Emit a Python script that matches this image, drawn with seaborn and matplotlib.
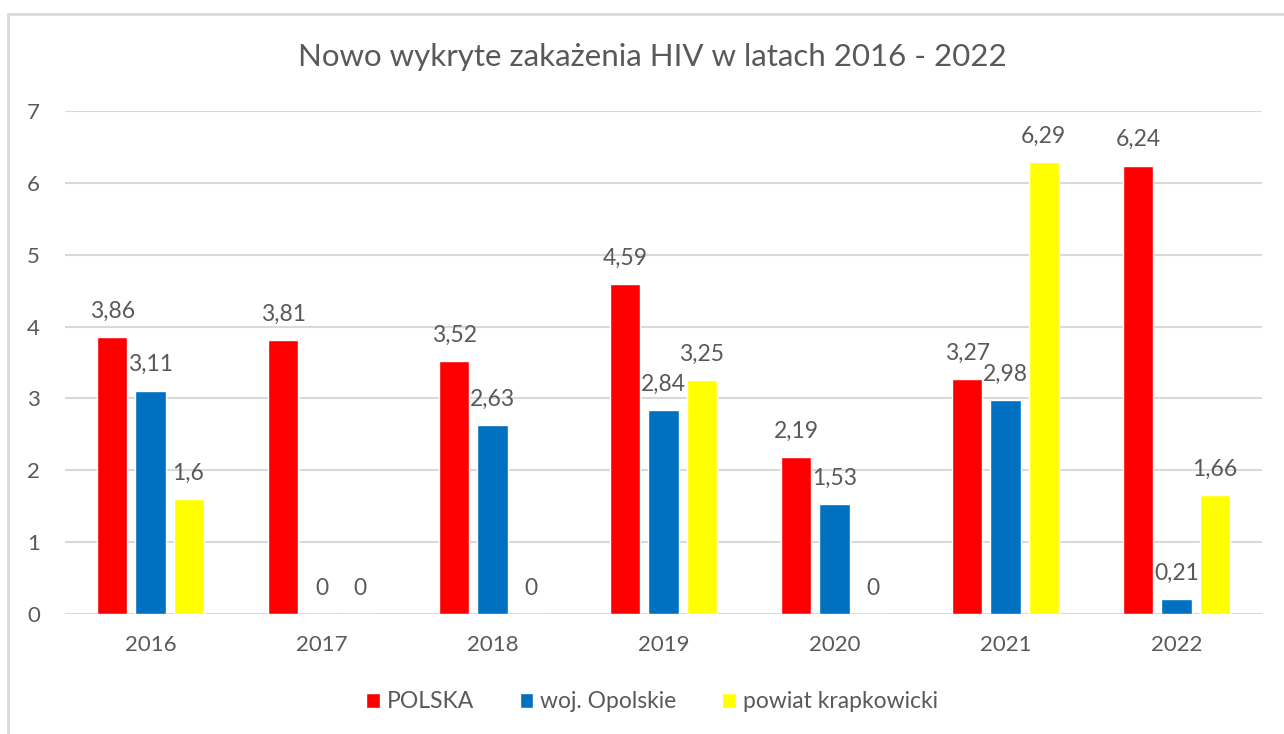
import matplotlib
matplotlib.use("Agg")
import matplotlib.pyplot as plt
from matplotlib.lines import Line2D
import seaborn as sns
import pandas as pd

years = ["2016", "2017", "2018", "2019", "2020", "2021", "2022"]
polska = [3.86, 3.81, 3.52, 4.59, 2.19, 3.27, 6.24]
opolskie = [3.11, 0, 2.63, 2.84, 1.53, 2.98, 0.21]
krapkowicki = [1.6, 0, 0, 3.25, 0, 6.29, 1.66]
series_names = ["POLSKA", "woj. Opolskie", "powiat krapkowicki"]
colors = ["#FF0000", "#0070C0", "#FFFF00"]
title = "Nowo wykryte zakażenia HIV w latach 2016 - 2022"

rows = []
for name, vals in zip(series_names, [polska, opolskie, krapkowicki]):
    for y, v in zip(years, vals):
        rows.append({"rok": y, "seria": name, "wartosc": v})
df = pd.DataFrame(rows)

sns.set_theme(style="white")
plt.rcParams["font.family"] = ["Lato", "DejaVu Sans"]
txt = "#595959"

fig = plt.figure(figsize=(12.84, 7.34), dpi=100)
ax = fig.add_axes([65 / 1284, 1 - 614 / 734, (1262 - 65) / 1284, (614 - 111) / 734])

sns.barplot(data=df, x="rok", y="wartosc", hue="seria", order=years,
            hue_order=series_names, palette=colors, saturation=1,
            width=0.667, gap=0.21, ax=ax, legend=True)

ax.set_ylim(0, 7)
ax.set_yticks(range(0, 8))
ax.set_xlim(-0.5, len(years) - 0.5)
ax.yaxis.grid(True, color="#D9D9D9", linewidth=1.5)
ax.set_axisbelow(True)
for s in ax.spines.values():
    s.set_visible(False)
ax.set_xlabel("")
ax.set_ylabel("")
ax.tick_params(axis="both", length=0, labelsize=16, colors=txt)
ax.tick_params(axis="x", pad=15)
ax.tick_params(axis="y", pad=18)

for cont in ax.containers:
    labels = [f"{v:g}".replace(".", ",") for v in cont.datavalues]
    ax.bar_label(cont, labels=labels, padding=11, fontsize=16.5, color=txt)

leg = ax.legend(loc="center", bbox_to_anchor=(652 / 1284, 1 - 702 / 734),
                bbox_transform=fig.transFigure, ncol=3, frameon=False,
                fontsize=16.5, handlelength=0.6, handleheight=0.6,
                handletextpad=0.3, columnspacing=2.0)
for t in leg.get_texts():
    t.set_color(txt)

fig.text(652 / 1284, 1 - 57 / 734, title, ha="center", va="center",
         fontsize=22.5, color=txt)

# chart border (left and top visible)
fig.add_artist(Line2D([8 / 1284, 8 / 1284], [0, 1 - 14 / 734],
                      transform=fig.transFigure, color="#D9D9D9", linewidth=2))
fig.add_artist(Line2D([8 / 1284, 1], [1 - 14 / 734, 1 - 14 / 734],
                      transform=fig.transFigure, color="#D9D9D9", linewidth=2))

fig.savefig("out.png", dpi=100)
